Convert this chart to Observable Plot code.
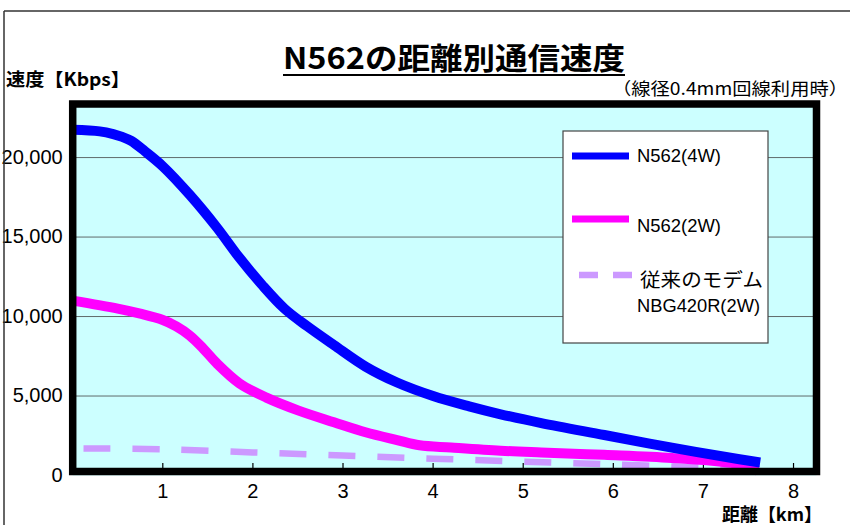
<!DOCTYPE html>
<html><head><meta charset="utf-8">
<script src="https://cdn.jsdelivr.net/npm/d3@7"></script>
<script src="https://cdn.jsdelivr.net/npm/@observablehq/plot@0.6"></script>
<style>
html,body{margin:0;padding:0;background:#fff;}
#wrap{position:relative;width:850px;height:525px;overflow:hidden;}
</style></head><body><div id="wrap"></div>
<script>
// ---- data ----
const km4W   = [0, 0.3, 0.45, 0.55, 0.65, 0.8, 1.0, 1.3, 1.6, 1.85, 2.1, 2.35, 2.6, 2.9, 3.25, 3.6, 4.0, 4.4, 4.75, 5.2, 5.9, 6.65, 7.4, 7.63];
const kbps4W = [21750, 21650, 21480, 21300, 21050, 20400, 19450, 17650, 15600, 13700, 12000, 10500, 9400, 8200, 6850, 5850, 5000, 4350, 3850, 3300, 2550, 1750, 1020, 820];
const km2W   = [0, 0.5, 0.75, 1.0, 1.15, 1.3, 1.45, 1.6, 1.85, 2.15, 2.5, 2.9, 3.25, 3.6, 3.85, 4.2, 4.75, 5.2, 5.9, 6.65, 7.4, 7.6];
const kbps2W = [11000, 10500, 10180, 9780, 9380, 8800, 7980, 7050, 5800, 4900, 4100, 3350, 2720, 2230, 1900, 1760, 1560, 1450, 1300, 1100, 700, 300];
const kmOld   = [0.12, 1.0, 2.0, 3.0, 4.0, 5.0, 6.0, 7.0, 7.3];
const kbpsOld = [1700, 1650, 1450, 1260, 1060, 870, 690, 500, 450];
const seriesNames = ["N562(4W)", "N562(2W)", "従来のモデム", "NBG420R(2W)"];
const yTicks = [0, 5000, 10000, 15000, 20000];
const xTicks = [1, 2, 3, 4, 5, 6, 7, 8];
const titleText = "N562の距離別通信速度";
const subtitleText = "（線径0.4mm回線利用時）";
const yLabelText = "速度【Kbps】";
const xLabelText = "距離【km】";

const rows = (kms, vals, s) => kms.map((k, i) => ({km: k, kbps: vals[i], series: s}));
const rows4W = rows(km4W, kbps4W, seriesNames[0]);
const rows2W = rows(km2W, kbps2W, seriesNames[1]);
const rowsOld = rows(kmOld, kbpsOld, seriesNames[2]);

const W = 850, H = 525, mL = 72.2, mR = 34, mT = 103.5, mB = 50;
const frameH = H - mT - mB;
const BLUE = "#0000ff", MAGENTA = "#ff00ff", LILAC = "#cc99ff";

const chart = Plot.plot({
  width: W, height: H,
  marginLeft: mL, marginRight: mR, marginTop: mT, marginBottom: mB,
  style: {fontFamily: "'Liberation Sans', Arial, sans-serif", fontSize: "20px", color: "#000", background: "transparent", overflow: "visible"},
  x: {domain: [0, 8.255], label: null},
  y: {domain: [0, 23370], label: null},
  marks: [
    Plot.frame({fill: "#ccffff", stroke: null}),
    Plot.gridY(yTicks.filter(v => v > 0), {stroke: "#5f6b6b", strokeOpacity: 1, strokeWidth: 1}),
    Plot.ruleX(xTicks, {stroke: "#000", strokeWidth: 1.2, insetTop: frameH - 12, insetBottom: 4}),
    Plot.line(rowsOld, {x: "km", y: "kbps", stroke: LILAC, strokeWidth: 6.5, strokeDasharray: "27,22", strokeLinecap: "butt", curve: "catmull-rom"}),
    Plot.line(rows2W, {x: "km", y: "kbps", stroke: MAGENTA, strokeWidth: 10, strokeLinecap: "butt", curve: "catmull-rom"}),
    Plot.line(rows4W, {x: "km", y: "kbps", stroke: BLUE, strokeWidth: 10, strokeLinecap: "butt", curve: "catmull-rom"}),
    Plot.frame({stroke: "#000", strokeWidth: 7.5, insetBottom: 4}),
    Plot.axisY(yTicks, {tickSize: 0, tickPadding: 10, tickFormat: d3.format(","), fontSize: 20, label: null}),
    Plot.axisX(xTicks, {tickSize: 0, tickPadding: 8, fontSize: 20, label: null})
  ]
});
document.getElementById("wrap").appendChild(chart);

const svg = d3.select(chart);
const CJK = "'Noto Sans CJK JP', 'Noto Sans', sans-serif";
const LAT = "'Liberation Sans', Arial, sans-serif";
const txt = (parent, t, x, y, o = {}) => {
  const e = parent.append("text").text(t).attr("x", x).attr("y", y)
    .attr("text-anchor", "start").attr("font-family", o.font || CJK)
    .attr("font-size", o.size || 18).attr("font-weight", o.bold ? "bold" : "normal").attr("fill", "#000");
  if (o.len) e.attr("textLength", o.len).attr("lengthAdjust", "spacingAndGlyphs");
  return e;
};

// outer picture border (top and left)
svg.append("line").attr("x1", 4).attr("y1", 11).attr("x2", W).attr("y2", 11).attr("stroke", "#333").attr("stroke-width", 1.5);
svg.append("line").attr("x1", 4).attr("y1", 11).attr("x2", 4).attr("y2", H).attr("stroke", "#333").attr("stroke-width", 1.5);

// title + subtitle
txt(svg, titleText, 283, 69, {size: 30, bold: true, len: 342});
svg.append("line").attr("x1", 283).attr("x2", 625).attr("y1", 75).attr("y2", 75).attr("stroke", "#000").attr("stroke-width", 2);
txt(svg, subtitleText, 612, 94.5, {size: 17, len: 236});
// axis titles
txt(svg, yLabelText, 6, 86, {size: 18, bold: true, len: 124});
txt(svg, xLabelText, 722, 521, {size: 18, bold: true, len: 100});

// legend
const lg = svg.append("g");
lg.append("rect").attr("x", 563).attr("y", 131).attr("width", 205).attr("height", 212)
  .attr("fill", "#fff").attr("stroke", "#444").attr("stroke-width", 1.2);
lg.append("line").attr("x1", 572).attr("x2", 629).attr("y1", 156).attr("y2", 156).attr("stroke", BLUE).attr("stroke-width", 7);
lg.append("line").attr("x1", 572).attr("x2", 629).attr("y1", 219).attr("y2", 219).attr("stroke", MAGENTA).attr("stroke-width", 7);
lg.append("line").attr("x1", 579).attr("x2", 632).attr("y1", 275).attr("y2", 275).attr("stroke", LILAC).attr("stroke-width", 6.5).attr("stroke-dasharray", "19,15");
txt(lg, seriesNames[0], 637, 161.5, {font: LAT, size: 18, len: 84});
txt(lg, seriesNames[1], 637, 231.5, {font: LAT, size: 18, len: 84});
txt(lg, seriesNames[2], 640, 287, {size: 19, len: 123});
txt(lg, seriesNames[3], 637, 311.5, {font: LAT, size: 18, len: 123});
</script>
</body></html>
